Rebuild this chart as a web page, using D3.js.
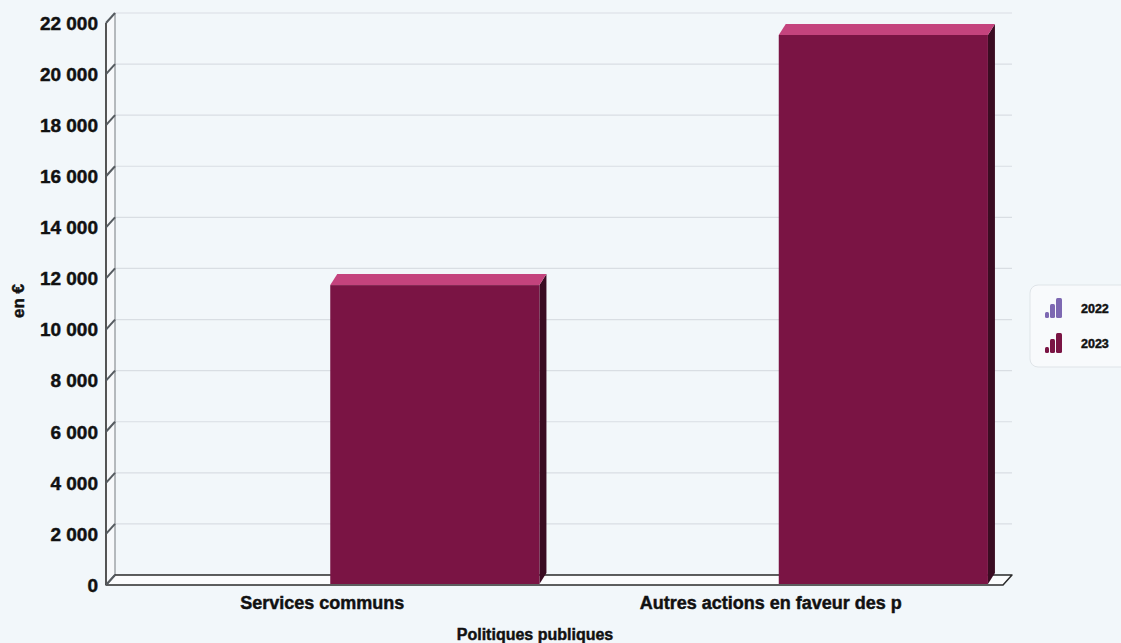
<!DOCTYPE html>
<html>
<head>
<meta charset="utf-8">
<script src="https://cdn.jsdelivr.net/npm/d3@7"></script>
<style>
  html, body { margin: 0; padding: 0; background: #f2f7fa; }
  svg { display: block; }
  text { font-family: "Liberation Sans", Arial, sans-serif; font-weight: bold; fill: #111; stroke: #111; stroke-width: 0.45px; }
</style>
</head>
<body>
<svg id="chart" width="1121" height="643"></svg>
<script>
// Chart data
const categories = ["Services communs", "Autres actions en faveur des p"];
const seriesNames = ["2022", "2023"];
const values2022 = [0, 0];
const values2023 = [11740, 21530];
const yTickValues = [0, 2000, 4000, 6000, 8000, 10000, 12000, 14000, 16000, 18000, 20000, 22000];
const xAxisTitle = "Politiques publiques";
const yAxisTitle = "en €";

const seriesColors = { "2022": "#7d68b2", "2023": "#7a1444" };
const barFaces = { front: "#7a1444", top: "#c4437d", side: "#3a0c22" };

const W = 1121, H = 643;
const plot = { left: 106, right: 1003, top: 23, bottom: 585 };
const wallDX = 9, wallDY = -10;   // depth of walls / floor
const barDX = 7, barDY = -11;     // depth of each bar

const svg = d3.select("#chart");
const fr = d3.formatLocale({ decimal: ",", thousands: "\u00a0", grouping: [3], currency: ["", " €"] });
const fmt = fr.format(",");

const x = d3.scaleBand().domain(categories).range([plot.left, plot.right]).paddingInner(0).paddingOuter(0);
const xInner = d3.scaleBand().domain(seriesNames).range([0, x.bandwidth()]).paddingInner(0).paddingOuter(0.072);
const y = d3.scaleLinear().domain([0, 22000]).range([plot.bottom, plot.top]);

const rows = categories.map((c, i) => ({ category: c, values: { "2022": values2022[i], "2023": values2023[i] } }));

// back-wall gridlines
svg.append("g").selectAll("line").data(yTickValues).join("line")
  .attr("x1", plot.left + wallDX).attr("x2", plot.right + wallDX)
  .attr("y1", d => y(d) + wallDY).attr("y2", d => y(d) + wallDY)
  .attr("stroke", "#d9dee3").attr("stroke-width", 1.2);

// left wall
const wall = svg.append("g");
wall.append("path")
  .attr("d", `M${plot.left},${plot.top} L${plot.left + wallDX},${plot.top + wallDY} L${plot.left + wallDX},${plot.bottom + wallDY} L${plot.left},${plot.bottom} Z`)
  .attr("fill", "#f7f9fb").attr("stroke", "none");
wall.append("line").attr("x1", plot.left + wallDX).attr("x2", plot.left + wallDX)
  .attr("y1", plot.top + wallDY).attr("y2", plot.bottom + wallDY)
  .attr("stroke", "#8a8f94").attr("stroke-width", 1.2);
wall.append("line").attr("x1", plot.left).attr("x2", plot.left)
  .attr("y1", plot.top).attr("y2", plot.bottom)
  .attr("stroke", "#2b2b2b").attr("stroke-width", 1.6);

// floor
svg.append("path")
  .attr("d", `M${plot.left},${plot.bottom} L${plot.left + wallDX},${plot.bottom + wallDY} L${plot.right + wallDX},${plot.bottom + wallDY} L${plot.right},${plot.bottom} Z`)
  .attr("fill", "#fbfcfd").attr("stroke", "#2b2b2b").attr("stroke-width", 1.5).attr("stroke-linejoin", "round");

// tick marks on the wall
svg.append("g").selectAll("line").data(yTickValues).join("line")
  .attr("x1", plot.left).attr("y1", d => y(d))
  .attr("x2", plot.left + wallDX).attr("y2", d => y(d) + wallDY)
  .attr("stroke", "#555b60").attr("stroke-width", 2);

// y tick labels
svg.append("g").selectAll("text").data(yTickValues).join("text")
  .attr("x", plot.left - 8).attr("y", d => y(d))
  .attr("dy", "0.36em").attr("text-anchor", "end")
  .style("font-size", "19px")
  .text(d => fmt(d));

// bars (3D boxes)
const bars = [];
rows.forEach(r => seriesNames.forEach(s => {
  if (r.values[s] > 0) bars.push({ category: r.category, series: s, value: r.values[s] });
}));
const barG = svg.append("g").selectAll("g").data(bars).join("g");
barG.each(function(d) {
  const g = d3.select(this);
  const x0 = x(d.category) + xInner(d.series);
  const x1 = x0 + xInner.bandwidth();
  const yt = y(d.value), yb = y(0) - 1;
  g.append("path")
    .attr("d", `M${x1},${yt} L${x1 + barDX},${yt + barDY} L${x1 + barDX},${yb + barDY} L${x1},${yb} Z`)
    .attr("fill", barFaces.side);
  g.append("path")
    .attr("d", `M${x0},${yt} L${x0 + barDX},${yt + barDY} L${x1 + barDX},${yt + barDY} L${x1},${yt} Z`)
    .attr("fill", barFaces.top);
  g.append("rect")
    .attr("x", x0).attr("y", yt).attr("width", x1 - x0).attr("height", yb - yt)
    .attr("fill", barFaces.front);
});

// category labels
svg.append("g").selectAll("text").data(categories).join("text")
  .attr("x", d => x(d) + x.bandwidth() / 2 - 8).attr("y", 609)
  .attr("text-anchor", "middle").style("font-size", "18px")
  .text(d => d);

// axis titles
svg.append("text").attr("x", 535).attr("y", 640).attr("text-anchor", "middle")
  .style("font-size", "16px").text(xAxisTitle);
svg.append("text").attr("transform", "translate(24,301) rotate(-90)")
  .attr("text-anchor", "middle").style("font-size", "17px").text(yAxisTitle);

// legend
const legend = svg.append("g").attr("transform", "translate(1030,285)");
legend.append("rect").attr("width", 100).attr("height", 82).attr("rx", 8)
  .attr("fill", "#f8fafc").attr("stroke", "#dfe4e8");
const item = legend.selectAll("g.item").data(seriesNames).join("g")
  .attr("class", "item").attr("transform", (d, i) => `translate(15,${13 + i * 35})`);
const iconBars = [[0, 14, 4, 6], [5, 6, 5, 14], [11, 0, 6, 20]];
item.each(function(s) {
  d3.select(this).selectAll("rect").data(iconBars).join("rect")
    .attr("x", b => b[0]).attr("y", b => b[1]).attr("width", b => b[2]).attr("height", b => b[3])
    .attr("rx", 1.5).attr("fill", seriesColors[s]);
});
item.append("text").attr("x", 36).attr("y", 10).attr("dy", "0.36em")
  .style("font-size", "12.5px").text(d => d);
</script>
</body>
</html>
